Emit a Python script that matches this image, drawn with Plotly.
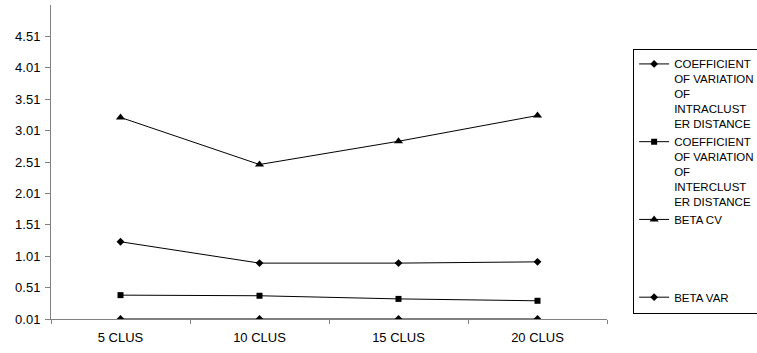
import plotly.graph_objects as go

categories = ["5 CLUS", "10 CLUS", "15 CLUS", "20 CLUS"]
cv_intra = [1.24, 0.90, 0.90, 0.92]
cv_inter = [0.39, 0.38, 0.33, 0.30]
beta_cv = [3.22, 2.47, 2.84, 3.25]
beta_var = [0.01, 0.01, 0.01, 0.01]
y_ticks = [0.01, 0.51, 1.01, 1.51, 2.01, 2.51, 3.01, 3.51, 4.01, 4.51]

names = [
    "COEFFICIENT<br>OF VARIATION<br>OF<br>INTRACLUST<br>ER DISTANCE",
    "COEFFICIENT<br>OF VARIATION<br>OF<br>INTERCLUST<br>ER DISTANCE",
    "BETA CV<br> <br> <br> <br> ",
    "BETA VAR",
]
series = [cv_intra, cv_inter, beta_cv, beta_var]
symbols = ["diamond", "square", "triangle-up", "diamond"]
sizes = [6, 6, 8, 6]

fig = go.Figure()
for name, ys, sym, sz in zip(names, series, symbols, sizes):
    fig.add_trace(go.Scatter(
        x=categories, y=ys, name=name, mode="lines+markers",
        line=dict(color="#000000", width=1),
        marker=dict(symbol=sym, size=sz, color="#000000"),
        cliponaxis=True,
    ))

fig.update_layout(
    width=757, height=353,
    margin=dict(l=51, r=150, t=5, b=34, autoexpand=False),
    paper_bgcolor="white", plot_bgcolor="white",
    font=dict(family="Liberation Sans, Arial, sans-serif", size=13, color="#000000"),
    showlegend=True,
    legend=dict(
        x=1.047, y=0.86, xanchor="left", yanchor="top",
        bordercolor="#000000", borderwidth=1,
        font=dict(size=11.5, family="Liberation Sans, Arial, sans-serif"),
        valign="top", tracegroupgap=0, itemwidth=30,
        entrywidth=140, entrywidthmode="pixels",
    ),
    xaxis=dict(
        type="category", range=[-0.5, 3.5],
        showline=True, linecolor="#808080", linewidth=1,
        ticks="outside", ticklen=4, tickcolor="#808080", tickson="boundaries",
        showgrid=False, zeroline=False, layer="below traces",
        tickfont=dict(size=13), ticklabelstandoff=6,
    ),
    yaxis=dict(
        range=[0.01, 5.01],
        tickvals=y_ticks, tickformat=".2f",
        showline=True, linecolor="#808080", linewidth=1,
        ticks="outside", ticklen=5, tickcolor="#808080",
        showgrid=False, zeroline=False, layer="below traces",
        tickfont=dict(size=13), ticklabelstandoff=2,
    ),
)

fig.write_html("out.html")
